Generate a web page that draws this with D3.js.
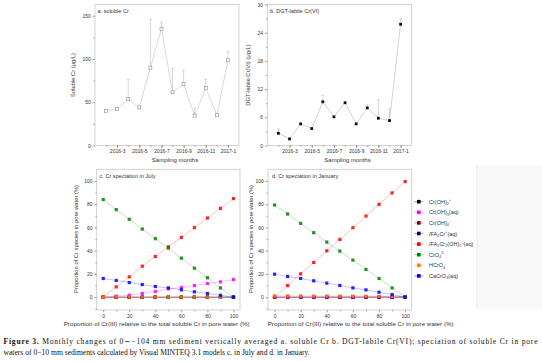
<!DOCTYPE html>
<html>
<head>
<meta charset="utf-8">
<script src="https://cdn.jsdelivr.net/npm/d3@7"></script>
<style>
body { margin: 0; background: #fff; }
svg { display: block; font-family: "Liberation Sans", Arial, sans-serif; }
.tick text { fill: #333; }
.tick line { stroke: #666; }
</style>
</head>
<body>
<script>
var width = 542,
	height = 361;

// Sampling months for panels a and b
var months = ["2016-2", "2016-3", "2016-4", "2016-5", "2016-6", "2016-7", "2016-8", "2016-9", "2016-10", "2016-11", "2016-12", "2017-1"];
var monthLabels = ["2016-3", "2016-5", "2016-7", "2016-9", "2016-11", "2017-1"];

// a. soluble Cr (ug/L) and upper error
var solubleCr = [40, 42, 53.5, 44, 90, 135, 61.5, 71, 34.5, 66.5, 35, 98.5];
var solubleCrErr = [1, 1, 23, 1, 56, 7.5, 27.5, 16, 8.5, 10, 1, 10];

// b. DGT-labile Cr(VI) (ug/L) and upper error
var dgtCr = [2.6, 1.4, 4.6, 3.6, 9.3, 6.1, 9.1, 4.6, 8.0, 5.8, 5.3, 25.8];
var dgtCrErr = [0.9, 0, 0, 0, 1.4, 0, 0, 0, 0.6, 3.9, 2.5, 1.2];

// Proportion of Cr(III) (%) for panels c and d
var crIII = [0, 10, 20, 30, 40, 50, 60, 70, 80, 90, 100];

// c. July speciation (%)
var julyCrOH2 = [0, 0, 0, 0, 0, 0, 0, 0, 0, 0, 0];
var julyCrOH3 = [0, 0.9, 1.7, 3.2, 4.9, 7.2, 8.3, 10, 11.8, 13.2, 15.2];
var julyCrOH4 = [0, 0, 0, 0, 0, 0, 0, 0, 0, 0, 0];
var julyFA2Cr = [0, 0, 0, 0, 0, 0, 0, 0, 0, 0, 0];
var julyFA2Cr2 = [0, 8.9, 17.5, 26.7, 35, 43.4, 51.4, 59.8, 68.1, 76.4, 84.8];
var julyCrO4 = [84, 75.3, 67, 58.6, 50.3, 42.2, 33.6, 25, 16.7, 8, 0];
var julyHCrO4 = [0.1, 0.1, 0.1, 0.1, 0.1, 0.1, 0.1, 0.1, 0, 0, 0];
var julyCaCrO4 = [16.1, 14.4, 12.6, 10.9, 9.2, 8, 6.3, 4.6, 3.2, 1.7, 0];

// d. January speciation (%)
var janCrOH2 = [0, 0, 0, 0, 0, 0, 0, 0, 0, 0, 0];
var janCrOH3 = [0, 0.1, 0.1, 0.2, 0.2, 0.3, 0.3, 0.3, 0.4, 0.4, 0.5];
var janCrOH4 = [0, 0, 0, 0, 0, 0, 0, 0, 0, 0, 0];
var janFA2Cr = [0, 0, 0, 0, 0, 0, 0, 0, 0, 0, 0];
var janFA2Cr2 = [0, 10, 20.1, 29.9, 39.9, 49.7, 59.8, 69.8, 79.9, 89.7, 99.4];
var janCrO4 = [79.3, 71.6, 63.5, 55.5, 47.4, 39.7, 31.9, 23.9, 16.1, 8, 0.3];
var janHCrO4 = [1.3, 1.2, 1.2, 1.1, 1.1, 1, 1, 0.9, 0.8, 0.8, 0.5];
var janCaCrO4 = [19.8, 17.8, 16.1, 14.1, 12.1, 10.1, 8, 6.3, 4.3, 2.3, 0];

// Legend names (parts: [text, "n"|"sub"|"sup"]) and colours
var speciesNames = [
	[["Cr(OH)", "n"], ["2", "sub"], ["+", "sup"]],
	[["Cr(OH)", "n"], ["3", "sub"], ["(aq)", "n"]],
	[["Cr(OH)", "n"], ["4", "sub"], ["-", "sup"]],
	[["/FA", "n"], ["2", "sub"], ["Cr", "n"], ["+", "sup"], ["(aq)", "n"]],
	[["/FA", "n"], ["2", "sub"], ["Cr", "n"], ["2", "sub"], ["(OH)", "n"], ["2", "sub"], ["+", "sup"], ["(aq)", "n"]],
	[["CrO", "n"], ["4", "sub"], ["2-", "sup"]],
	[["HCrO", "n"], ["4", "sub"], ["-", "sup"]],
	[["CaCrO", "n"], ["4", "sub"], ["(aq)", "n"]]
];
var speciesColors = ["#000000", "#ff00ff", "#800000", "#000080", "#ff0000", "#008000", "#ff8000", "#0000ff"];

var julySeries = [julyCrOH2, julyCrOH3, julyCrOH4, julyFA2Cr, julyFA2Cr2, julyCrO4, julyHCrO4, julyCaCrO4];
var janSeries = [janCrOH2, janCrOH3, janCrOH4, janFA2Cr, janFA2Cr2, janCrO4, janHCrO4, janCaCrO4];

// draw order so the visible markers sit on top like the original
var drawOrder = [0, 2, 3, 1, 4, 6, 5, 7];

var svg = d3.select("body").append("svg")
	.attr("width", width)
	.attr("height", height);

// light strip behind the legend
svg.append("rect")
	.attr("x", 477).attr("y", 165)
	.attr("width", 65).attr("height", 144)
	.attr("fill", "#f8f8f8");
svg.append("line")
	.attr("x1", 477).attr("x2", 477)
	.attr("y1", 165).attr("y2", 309)
	.attr("stroke", "#e2e2e2")
	.attr("stroke-width", 0.7);

// Draw a frame and both axes
function frame(x, y, xTicks, xMinor, yTicks, yMinor, xFormat) {
	var x0 = x.range()[0], x1 = x.range()[1],
		y0 = y.range()[0], y1 = y.range()[1];

	svg.append("rect")
		.attr("x", x0).attr("y", y1)
		.attr("width", x1 - x0).attr("height", y0 - y1)
		.attr("fill", "none")
		.attr("stroke", "#c8c8c8")
		.attr("stroke-width", 0.8);

	var xa = svg.append("g")
		.attr("transform", "translate(0," + y0 + ")")
		.call(d3.axisBottom(x).tickValues(xMinor).tickSize(1.4).tickFormat(""));
	xa.select(".domain").remove();

	var xb = svg.append("g")
		.attr("transform", "translate(0," + y0 + ")")
		.call(d3.axisBottom(x).tickValues(xTicks).tickSize(2.4).tickPadding(1.8).tickFormat(xFormat));
	xb.select(".domain").remove();
	xb.selectAll("text").style("font-size", "5px").attr("font-family", null);

	var ya = svg.append("g")
		.attr("transform", "translate(" + x0 + ",0)")
		.call(d3.axisLeft(y).tickValues(yMinor).tickSize(1.4).tickFormat(""));
	ya.select(".domain").remove();

	var yb = svg.append("g")
		.attr("transform", "translate(" + x0 + ",0)")
		.call(d3.axisLeft(y).tickValues(yTicks).tickSize(2.4).tickPadding(1.8));
	yb.select(".domain").remove();
	yb.selectAll("text").style("font-size", "5px").attr("font-family", null);

	svg.selectAll(".tick line").attr("stroke-width", 0.6);
}

function label(txt, x, y, size, anchor, rotate) {
	var t = svg.append("text")
		.attr("x", x).attr("y", y)
		.attr("fill", "#333")
		.style("font-size", size + "px")
		.attr("text-anchor", anchor || "start")
		.text(txt);
	if (rotate) t.attr("transform", "rotate(-90," + x + "," + y + ")");
	return t;
}

// ---- panel a: soluble Cr ----
var xa = d3.scalePoint().domain(months).range([95, 239]).padding(1);
var ya = d3.scaleLinear().domain([0, 163]).range([145.5, 4.5]);
frame(xa, ya, monthLabels, months, [0, 50, 100, 150], [25, 75, 125], null);

svg.append("g").selectAll("g")
	.data(months)
	.enter().append("path")
		.attr("d", function(d, i) {
			var cx = xa(d), top = ya(solubleCr[i] + solubleCrErr[i]);
			return "M" + cx + "," + ya(solubleCr[i]) + "V" + top + "M" + (cx - 1.5) + "," + top + "H" + (cx + 1.5);
		})
		.attr("stroke", "#bbb")
		.attr("stroke-width", 0.6)
		.attr("fill", "none");

svg.append("path")
	.datum(months)
	.attr("d", d3.line().x(function(d) { return xa(d); }).y(function(d, i) { return ya(solubleCr[i]); }))
	.attr("fill", "none")
	.attr("stroke", "#c8c8c8")
	.attr("stroke-width", 0.7);

svg.append("g").selectAll("rect")
	.data(months)
	.enter().append("rect")
		.attr("x", function(d) { return xa(d) - 1.5; })
		.attr("y", function(d, i) { return ya(solubleCr[i]) - 1.5; })
		.attr("width", 3).attr("height", 3)
		.attr("fill", "#fff")
		.attr("stroke", "#888")
		.attr("stroke-width", 0.6);

label("a. soluble Cr", 97.5, 12.5, 5.6);
label("Soluble Cr (\u03bcg/L)", 74.5, 75, 5.8, "middle", true);
label("Sampling months", 175, 162, 6, "middle");

// ---- panel b: DGT-labile Cr(VI) ----
var xb = d3.scalePoint().domain(months).range([267.3, 411.7]).padding(1);
var yb = d3.scaleLinear().domain([0, 30]).range([145.5, 4.5]);
frame(xb, yb, monthLabels, months, [0, 6, 12, 18, 24, 30], [3, 9, 15, 21, 27], null);

svg.append("g").selectAll("path")
	.data(months.filter(function(d, i) { return dgtCrErr[i] > 0; }))
	.enter().append("path")
		.attr("d", function(d) {
			var i = months.indexOf(d);
			var cx = xb(d), top = yb(dgtCr[i] + dgtCrErr[i]);
			return "M" + cx + "," + yb(dgtCr[i]) + "V" + top + "M" + (cx - 1.5) + "," + top + "H" + (cx + 1.5);
		})
		.attr("stroke", "#bbb")
		.attr("stroke-width", 0.6)
		.attr("fill", "none");

svg.append("path")
	.datum(months)
	.attr("d", d3.line().x(function(d) { return xb(d); }).y(function(d, i) { return yb(dgtCr[i]); }))
	.attr("fill", "none")
	.attr("stroke", "#bdbdbd")
	.attr("stroke-width", 0.7);

svg.append("g").selectAll("rect")
	.data(months)
	.enter().append("rect")
		.attr("x", function(d) { return xb(d) - 1.4; })
		.attr("y", function(d, i) { return yb(dgtCr[i]) - 1.4; })
		.attr("width", 2.8).attr("height", 2.8)
		.attr("fill", "#111");

label("b. DGT-labile Cr(VI)", 270, 12.5, 5.6);
label("DGT-labile Cr(VI) (\u03bcg/L)", 250, 75, 5.8, "middle", true);
label("Sampling months", 347.5, 162, 6, "middle");

// ---- panels c and d: speciation ----
function speciation(x, y, series) {
	frame(x, y, [0, 20, 40, 60, 80, 100], [10, 30, 50, 70, 90], [0, 20, 40, 60, 80, 100], [-10, 10, 30, 50, 70, 90, 110].filter(function(v) { return v > -11 && v < 110; }), null);

	var line = d3.line()
		.x(function(d, i) { return x(crIII[i]); })
		.y(function(d) { return y(d); });

	drawOrder.forEach(function(k) {
		svg.append("path")
			.datum(series[k])
			.attr("d", line)
			.attr("fill", "none")
			.attr("stroke", speciesColors[k])
			.attr("stroke-opacity", 0.35)
			.attr("stroke-width", 0.7);
	});
	drawOrder.forEach(function(k) {
		svg.append("g").selectAll("rect")
			.data(series[k])
			.enter().append("rect")
				.attr("x", function(d, i) { return x(crIII[i]) - 1.6; })
				.attr("y", function(d) { return y(d) - 1.6; })
				.attr("width", 3.2).attr("height", 3.2)
				.attr("fill", speciesColors[k])
				.attr("fill-opacity", 0.85);
	});
}

var xc = d3.scaleLinear().domain([-5, 105]).range([96.7, 240]);
var yc = d3.scaleLinear().domain([-11, 110]).range([310, 169.3]);
speciation(xc, yc, julySeries);
label("c. Cr speciation in July", 99.5, 178, 5.6);
label("Proportion of Cr species in pore water (%)", 77.5, 239, 5.8, "middle", true);
label("Proportion of Cr(III) relative to the total soluble Cr in pore water (%)", 156.7, 325.5, 5.8, "middle")
	.attr("textLength", 186).attr("lengthAdjust", "spacingAndGlyphs");

var xd = d3.scaleLinear().domain([-5, 105]).range([268, 411.7]);
var yd = d3.scaleLinear().domain([-11, 110]).range([310, 169.3]);
speciation(xd, yd, janSeries);
label("d. Cr speciation in January", 272, 178, 5.6);
label("Proportion of Cr species in pore water (%)", 253, 239, 5.8, "middle", true);
label("Proportion of Cr(III) relative to the total soluble Cr in pore water (%)", 360.7, 325.5, 5.8, "middle")
	.attr("textLength", 186).attr("lengthAdjust", "spacingAndGlyphs");

// ---- legend ----
var legend = svg.append("g").selectAll("g")
	.data(speciesNames)
	.enter().append("g")
		.attr("transform", function(d, i) { return "translate(414," + (201.7 + i * 10.6) + ")"; });

legend.append("line")
	.attr("x1", 0).attr("x2", 9.5)
	.attr("stroke", function(d, i) { return speciesColors[i]; })
	.attr("stroke-opacity", 0.5)
	.attr("stroke-width", 0.7);

legend.append("rect")
	.attr("x", 3).attr("y", -1.8)
	.attr("width", 3.6).attr("height", 3.6)
	.attr("fill", function(d, i) { return speciesColors[i]; });

legend.append("text")
	.attr("x", 15).attr("y", 2)
	.attr("fill", "#333")
	.style("font-size", "5.5px")
	.each(function(parts) {
		var t = d3.select(this);
		parts.forEach(function(p) {
			var s = t.append("tspan").text(p[0]);
			if (p[1] == "sub") s.style("font-size", "3.8px").attr("dy", 1.3);
			if (p[1] == "sup") s.style("font-size", "3.8px").attr("dy", -2.6);
			// move back to baseline after a shifted piece
			if (p[1] == "n") s.attr("dy", 0);
		});
		// fix baselines: recompute dy so each piece is relative to the previous one
		var prev = 0;
		t.selectAll("tspan").each(function(d, i) {
			var kind = parts[i][1];
			var want = kind == "sub" ? 1.3 : (kind == "sup" ? -2.6 : 0);
			d3.select(this).attr("dy", want - prev);
			prev = want;
		});
	});

// ---- caption ----
var cap1 = svg.append("text")
	.attr("x", 3.5).attr("y", 343.5)
	.attr("font-family", "'Liberation Serif', 'DejaVu Serif', serif")
	.style("font-size", "7.6px")
	.attr("fill", "#111")
	.attr("textLength", 534)
	.attr("lengthAdjust", "spacing");
cap1.append("tspan").attr("font-weight", "bold").text("Figure 3.");
cap1.append("tspan").text(" Monthly changes of 0\u223c\u2212104 mm sediment vertically averaged a. soluble Cr b. DGT-labile Cr(VI); speciation of soluble Cr in pore");

svg.append("text")
	.attr("x", 3.5).attr("y", 355)
	.attr("font-family", "'Liberation Serif', 'DejaVu Serif', serif")
	.style("font-size", "7.6px")
	.attr("fill", "#111")
	.text("waters of 0\u221210 mm sediments calculated by Visual MINTEQ 3.1 models c. in July and d. in January.");
</script>
</body>
</html>
